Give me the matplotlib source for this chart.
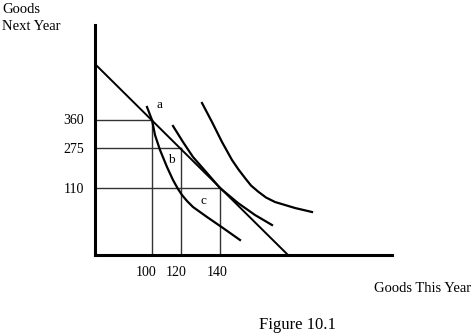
import matplotlib
matplotlib.use("Agg")
from matplotlib import pyplot as plt

plt.rcParams['font.family'] = ['Liberation Serif', 'DejaVu Serif']

# tick labels (goods) and where they sit on the sketch axes
y_labels = ['360', '275', '110']
y_pos = [135.5, 107, 67]
x_labels = ['100', '120', '140']
x_pos = [57, 86, 125]

# budget line intercepts
budget_x = [1, 193]
budget_y = [190, 0]

# indifference curves
ic1_x = [52, 57, 60, 65, 72, 78, 83, 87, 92, 98, 112, 128, 145]
ic1_y = [148, 135, 120, 105, 88, 75, 66, 60, 54, 48, 38, 27, 15]
ic2_x = [78, 88, 98, 112, 125, 143, 160, 177]
ic2_y = [129, 113, 98, 82, 67, 52, 40, 30]
ic3_x = [107, 117, 127, 137, 143.5, 150, 156, 163, 171, 180, 200, 217]
ic3_y = [152, 133, 113, 95, 85.5, 77, 69.5, 63.5, 57.5, 53, 47, 43]

points = ['a', 'b', 'c']
point_x = [64, 76, 108]
point_y = [150, 95, 54]

W, H = 473, 336
fig = plt.figure(figsize=(W / 100, H / 100), dpi=100)
ax = fig.add_axes([95 / W, (H - 255) / H, 297 / W, 230 / H])
ax.set_xlim(0, 297)
ax.set_ylim(0, 230)

# guide lines for the three bundles
for xv, yv in zip(x_pos, y_pos):
    ax.plot([0, xv], [yv, yv], color='#333333', lw=1.0)
    ax.plot([xv, xv], [0, yv], color='#333333', lw=1.0)

ax.plot(budget_x, budget_y, color='black', lw=1.4)
ax.plot(ic1_x, ic1_y, color='black', lw=1.6)
ax.plot(ic2_x, ic2_y, color='black', lw=1.6)
ax.plot(ic3_x, ic3_y, color='black', lw=1.6)

for t, xv, yv in zip(points, point_x, point_y):
    ax.text(xv, yv, t, fontsize=9.5, ha='center', va='center')

for s in ['top', 'right']:
    ax.spines[s].set_visible(False)
for s in ['left', 'bottom']:
    ax.spines[s].set_linewidth(2.2)

ax.set_yticks(y_pos)
ax.set_yticklabels(y_labels, fontsize=10)
ax.set_xticks([51.5, 81.5, 122])
ax.set_xticklabels(x_labels, fontsize=10)
ax.tick_params(axis='y', length=0, pad=8)
ax.tick_params(axis='x', length=0, pad=8)

fig.text(2 / W, 1 - 13 / H, 'Goods', fontsize=10.5)
fig.text(2 / W, 1 - 30 / H, 'Next Year', fontsize=10.5)
fig.text(374 / W, 1 - 292 / H, 'Goods This Year', fontsize=10.5)
fig.text(297 / W, 1 - 325 / H, 'Figure 10.1', fontsize=12, ha='center', va='center')

fig.savefig('out.png', dpi=100)
